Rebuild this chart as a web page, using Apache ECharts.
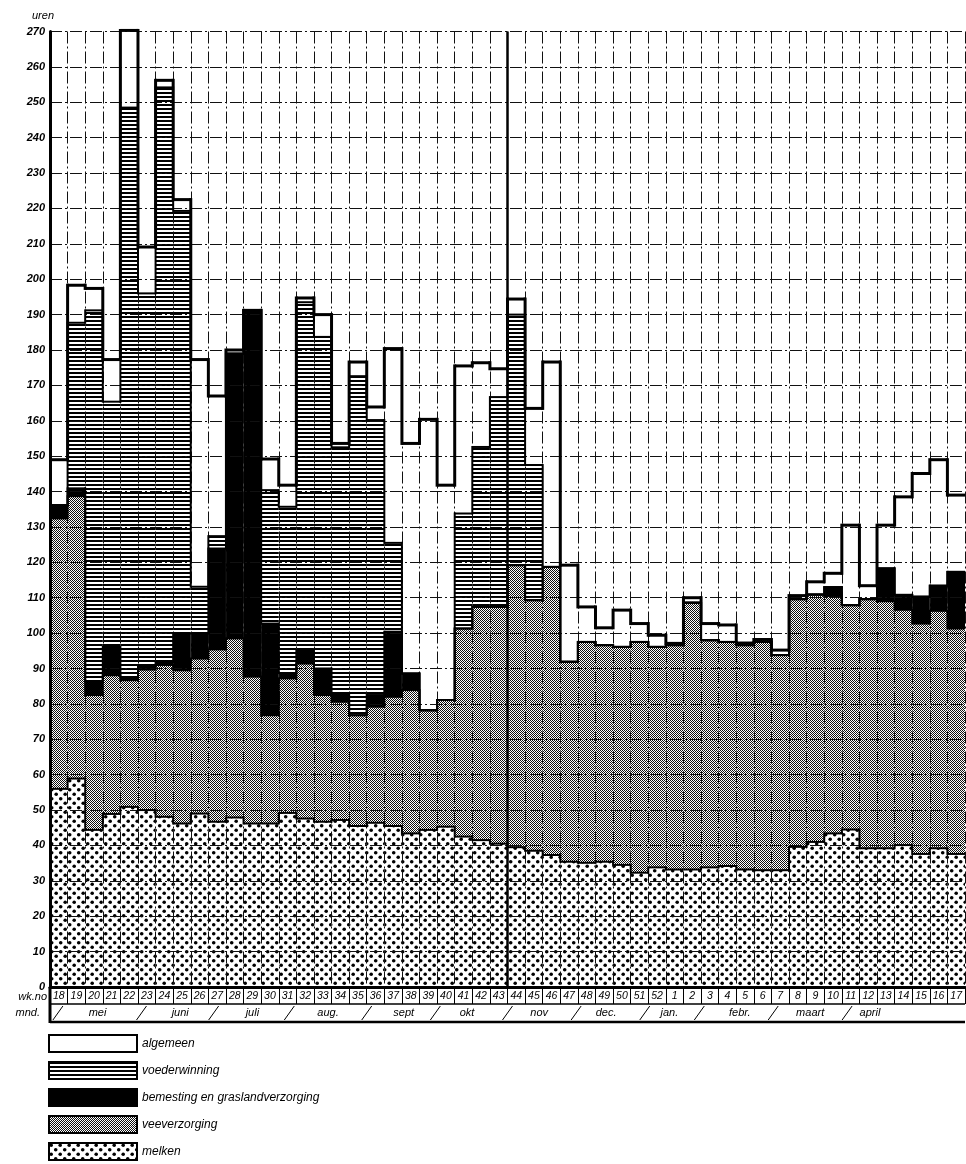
<!DOCTYPE html>
<html><head><meta charset="utf-8">
<script src="https://cdn.jsdelivr.net/npm/echarts@6/dist/echarts.min.js"></script>
<style>html,body{margin:0;padding:0;background:#fff}#c{width:966px;height:1164px}</style>
</head><body><div id="c"></div>
<script>
// ---- data (hours per week, per activity) ----
const weeks = ['18','19','20','21','22','23','24','25','26','27','28','29','30','31','32','33','34','35','36','37','38','39','40','41','42','43','44','45','46','47','48','49','50','51','52','1','2','3','4','5','6','7','8','9','10','11','12','13','14','15','16','17'];
const melken = [56,58.9,44.4,48.9,50.9,50,48.1,46.2,49,46.7,47.9,46.2,46.2,49.2,47.6,46.7,47.2,45.5,46.4,45.5,43.4,44.4,45.3,42.5,41.5,40.5,39.5,38.5,37.3,35.4,35.1,35.4,34.5,32.3,33.8,33.2,33.2,33.8,34.2,33.2,33,33,39.6,41,43.4,44.5,39.2,39.2,40.1,37.6,39.2,37.6];
const veeverzorging = [76.4,79.8,38.1,39.2,35.8,39.7,42.9,43.3,43.8,48.7,50.6,41.5,30.6,38,43.8,35.8,33.4,31.3,32.8,36.5,40.5,33.8,35.8,58.8,65.9,66.9,79.7,70.8,81.4,56.5,62.4,61.2,61.6,65.2,62.3,63.4,75.4,64.2,63.3,63.4,64.5,60.8,70,69.9,67.1,63.4,70.4,69.8,66.5,65.1,67.1,63.7];
const bemesting = [3.8,2.2,3.7,8,0.8,0.8,0.8,10.4,7.1,28.5,80.5,103.5,25.9,1.5,3.8,7.5,2.4,0,3.3,18.4,4.7,0,0,0,0,0,0,0,0,0,0,0,0,0,0,0,0,0,0,0,0,0,0,0,2.5,0,0,9.3,4.2,7.6,7.1,16];
const voederwinning = [0,46.8,105,69.3,161,105.5,162.4,119.4,13.2,3.5,0,0,37.7,47,98.3,93.7,69.5,95.8,77.7,25.1,0,0,0,32.5,45.2,59.3,70.8,38.2,0,0,0,0,0,0,0,0,0,0,0,0,0,0,0,0,0,0,0,0,0,0,0,0];
const algemeen = [12.8,10.6,6.2,11.9,21.8,13.1,2,3.2,64.2,39.6,1,0,8.8,6.1,1.2,6.3,1.1,4,3.7,54.9,65,82.2,60.7,41.7,23.8,8,4.4,16,57.9,27.3,9.9,4.9,10.4,5.2,3.3,0.5,1.4,4.7,4.8,0.6,0.7,1.4,1,3.6,3.9,22.6,3.8,12.2,27.7,34.8,35.6,21.7];
const months = ['mei','juni','juli','aug.','sept','okt','nov','dec.','jan.','febr.','maart','april'];
const monthBounds = [0.45,5.2,9.3,13.6,18,21.9,26,29.9,33.8,36.9,41.1,45.3]; // in weeks from axis start
const monthCenters = [2.7,7.4,11.5,15.8,20.1,23.7,27.8,31.6,35.2,39.2,43.2,46.6];
const yTicks = {min:0, max:270, step:10};
const dividerWeek = '44';

// ---- patterns ----
function pat(w,h,draw){const c=document.createElement('canvas');c.width=w;c.height=h;const g=c.getContext('2d');g.fillStyle='#fff';g.fillRect(0,0,w,h);draw(g);return {image:c,repeat:'repeat'};}
const dotPat = pat(9,9,g=>{g.fillStyle='#000';[[2.2,2.2],[6.7,6.7]].forEach(p=>{g.beginPath();g.arc(p[0],p[1],1.8,0,7);g.fill();});});
const stipPat = pat(2,2,g=>{g.fillStyle='#111';g.fillRect(0,0,1,1);g.fillRect(1,1,1,1);});
const hatchPat = pat(4,4,g=>{g.fillStyle='#000';g.fillRect(0,0,4,2);});

const layers = [melken, veeverzorging, bemesting, voederwinning, algemeen];
const levels = weeks.map((_,i)=>{let s=0;return layers.map(a=>(s+=a[i]));});
const FONT = '"Liberation Sans", Arial, sans-serif';

const chart = echarts.init(document.getElementById('c'));
function barSeries(name, data, color){
  return {name, type:'bar', stack:'uren', data, barCategoryGap:'0%', barGap:'0%', z:2,
    itemStyle:{color, borderWidth:0}, emphasis:{disabled:true}, animation:false};
}
chart.setOption({
  animation:false,
  grid:{left:50, right:1, top:31.5, bottom:177},
  xAxis:[{type:'category', data:weeks, boundaryGap:true, z:3,
    axisLine:{lineStyle:{color:'#000', width:3}},
    axisTick:{show:true, interval:0, length:17, lineStyle:{color:'#000', width:1}},
    axisLabel:{interval:0, margin:4, color:'#000', fontStyle:'italic', fontSize:10.5, fontFamily:FONT},
    splitLine:{show:true, interval:0, lineStyle:{color:'#111', width:1, type:[12,3,2,3]}}}],
  yAxis:[{type:'value', min:yTicks.min, max:yTicks.max, interval:yTicks.step, z:3,
    name:'uren', nameLocation:'end', nameGap:10,
    nameTextStyle:{color:'#000', fontStyle:'italic', fontSize:11, fontFamily:FONT, align:'right', padding:[0,-4,0,0]},
    axisLine:{show:true, lineStyle:{color:'#000', width:3}},
    axisTick:{show:false},
    axisLabel:{margin:5, color:'#000', fontStyle:'italic', fontWeight:'bold', fontSize:11, fontFamily:FONT},
    splitLine:{show:true, lineStyle:{color:'#111', width:1, type:[12,3,2,3]}}}],
  legend:{orient:'vertical', left:48, top:1034, height:220, padding:0, itemWidth:88, itemHeight:17, itemGap:8,
    icon:'rect', selectedMode:false,
    itemStyle:{borderColor:'#000', borderWidth:2},
    textStyle:{color:'#000', fontStyle:'italic', fontSize:12, fontFamily:FONT},
    data:['algemeen','voederwinning','bemesting en graslandverzorging','veeverzorging','melken']},
  series:[
    barSeries('melken', melken, dotPat),
    barSeries('veeverzorging', veeverzorging, stipPat),
    barSeries('bemesting en graslandverzorging', bemesting, '#000'),
    barSeries('voederwinning', voederwinning, hatchPat),
    barSeries('algemeen', algemeen, '#fff'),
    {type:'custom', name:'outline', z:5, clip:false, silent:true, data:weeks.map((_,i)=>[i]),
      renderItem:function(params, api){
        const i = api.value(0);
        const w = api.size([1,0])[0];
        const cx = api.coord([i,0])[0];
        const yb = api.coord([i,0])[1];
        const x0 = cx - w/2, x1 = cx + w/2;
        const ch = [];
        const L = levels[i], N = levels[i+1];
        for (let k=0;k<L.length;k++){
          const y = api.coord([i,L[k]])[1];
          const lw = k===L.length-1 ? 3 : 2;
          ch.push({type:'line', shape:{x1:x0,y1:y,x2:x1,y2:y}, style:{stroke:'#000', lineWidth:lw}});
          if (N){
            const yn = api.coord([i+1,N[k]])[1];
            if (Math.abs(yn-y)>0.5) ch.push({type:'line', shape:{x1:x1,y1:y-lw/2*Math.sign(yn-y),x2:x1,y2:yn+lw/2*Math.sign(yn-y)}, style:{stroke:'#000', lineWidth:lw}});
          }
        }
        if (weeks[i]===dividerWeek){
          ch.push({type:'line', shape:{x1:x0,y1:yb,x2:x0,y2:api.coord([i,yTicks.max])[1]}, style:{stroke:'#000', lineWidth:2.5}});
        }
        return {type:'group', children:ch};
      }},
    {type:'custom', name:'rows', z:5, clip:false, silent:true, data:[[0]],
      renderItem:function(params, api){
        const w = api.size([1,0])[0];
        const xs = api.coord([0,0])[0] - w/2;
        const xe = api.coord([weeks.length-1,0])[0] + w/2;
        const yb = api.coord([0,0])[1];
        const r1 = yb + 17, r2 = yb + 35;
        const X = p => xs + p*w;
        const ch = [];
        ch.push({type:'line', shape:{x1:xs,y1:r1,x2:xe,y2:r1}, style:{stroke:'#000', lineWidth:1.5}});
        ch.push({type:'line', shape:{x1:xs,y1:r2,x2:xe,y2:r2}, style:{stroke:'#000', lineWidth:2.5}});
        ch.push({type:'line', shape:{x1:xs,y1:yb,x2:xs,y2:r2+1}, style:{stroke:'#000', lineWidth:3}});
        monthBounds.forEach(b=>{
          ch.push({type:'line', shape:{x1:X(b)-5,y1:r2-2,x2:X(b)+5,y2:r1+2}, style:{stroke:'#000', lineWidth:1}});
        });
        months.forEach((m,j)=>{
          ch.push({type:'text', style:{text:m, x:X(monthCenters[j]), y:(r1+r2)/2, align:'center', verticalAlign:'middle', font:'italic 11px '+FONT, fill:'#000'}});
        });
        ch.push({type:'text', style:{text:'wk.no', x:xs-3, y:(yb+r1)/2+1, align:'right', verticalAlign:'middle', font:'italic 11px '+FONT, fill:'#000'}});
        ch.push({type:'text', style:{text:'mnd.', x:xs-10, y:(r1+r2)/2, align:'right', verticalAlign:'middle', font:'italic 11px '+FONT, fill:'#000'}});
        return {type:'group', children:ch};
      }}
  ]
});
</script></body></html>
